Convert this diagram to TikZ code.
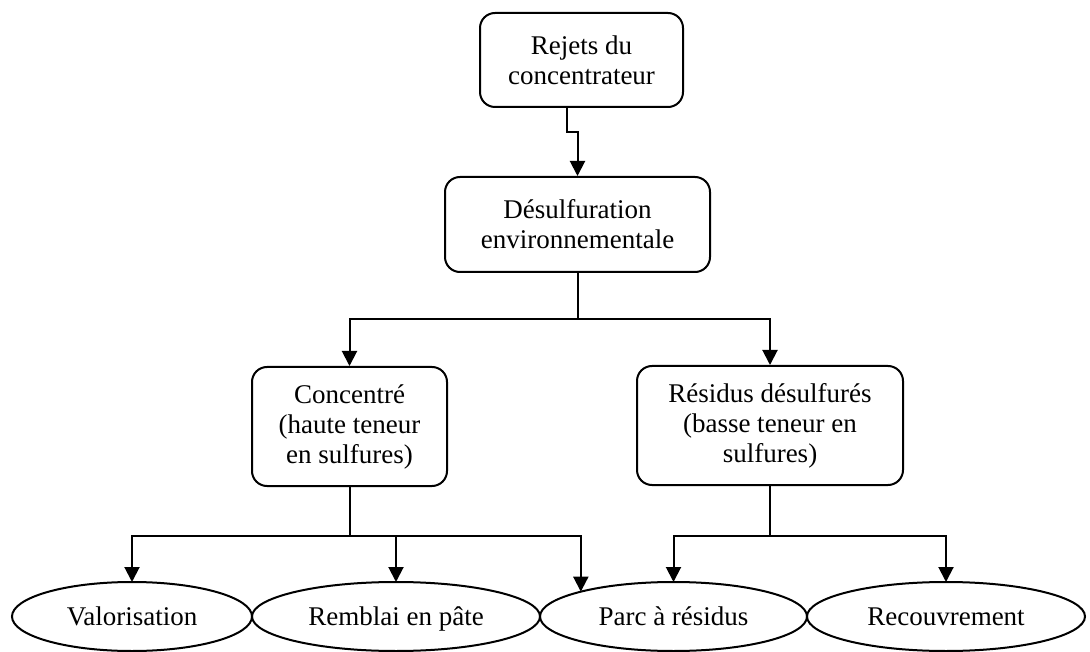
\documentclass[tikz,border=0pt]{standalone}
\usepackage{fontspec}
\setmainfont{Liberation Serif}
\usetikzlibrary{arrows.meta,positioning,calc,shapes.geometric}

\begin{document}
\begin{tikzpicture}[x=1pt, y=-1pt, >={Triangle[length=15pt,width=15pt]}, line width=2pt,
  font=\fontsize{27}{30}\selectfont,
  blk/.style={draw, rounded corners=15pt, align=center, inner sep=0pt},
  dst/.style={draw, ellipse, minimum height=69pt, inner sep=0pt, outer sep=0pt, text height=22pt, text depth=5pt}]
\useasboundingbox (0,0) rectangle (1090,652);
\node[blk, minimum width=203pt, minimum height=94pt] (rej) at (581.5,60) {Rejets du\\ concentrateur};
\node[blk, minimum width=265pt, minimum height=95pt] (des) at (577.5,224.5) {Désulfuration\\ environnementale};
\node[blk, minimum width=195pt, minimum height=119pt] (con) at (349.5,426.5) {Concentré\\ (haute teneur\\ en sulfures)};
\node[blk, minimum width=266pt, minimum height=119pt] (res) at (770,425.5) {Résidus désulfurés\\ (basse teneur en\\ sulfures)};
\node[dst, minimum width=240pt] (valo) at (132,616.5) {Valorisation};
\node[dst, minimum width=288pt, right=0pt of valo] (remb) {Remblai en pâte};
\node[dst, minimum width=267pt, right=0pt of remb] (parc) {Parc à résidus};
\node[dst, minimum width=278pt, right=0pt of parc] (recv) {Recouvrement};
\draw[->] ([xshift=-15pt]rej.south) -- ++(0,24) -| (des.north);
\draw (des.south) -- ++(0,46) coordinate (dj);
\draw[->] (dj) -| (con.north);
\draw[->] (dj) -| (res.north);
\draw (con.south) -- ++(0,49) coordinate (cj);
\draw[->] (cj) -| (valo.north);
\draw[->] (cj) -| (remb.north);
\draw[->] (cj) -| (parc.165);
\draw (res.south) -- ++(0,50) coordinate (rj);
\draw[->] (rj) -| (parc.north);
\draw[->] (rj) -| (recv.north);
\end{tikzpicture}
\end{document}
